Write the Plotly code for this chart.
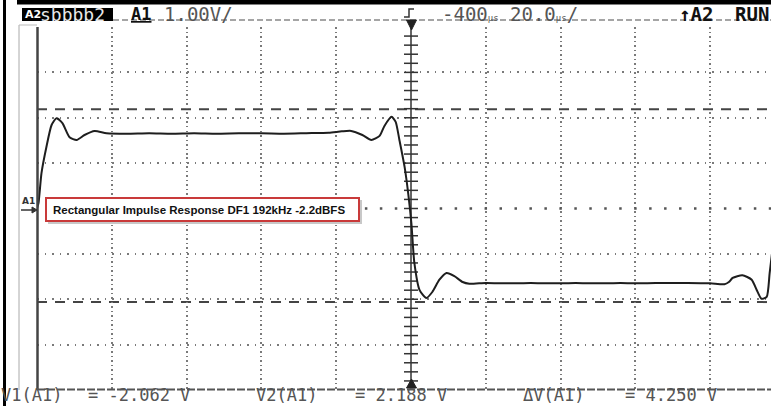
import plotly.graph_objects as go

time_us = [-100.0, -99.6, -98.8, -97.5, -96.1, -94.8, -93.2, -91.3, -89.4, -87.3,
           -84.6, -81.4, -76.0, -70.0, -64.0, -58.0, -52.0, -46.0, -40.0, -34.0,
           -28.0, -22.0, -18.5, -16.0, -13.0, -10.6, -8.4, -7.1, -5.2, -4.1,
           -3.1, -1.7, -0.7, 0.1, 0.9, 2.3, 4.1, 5.7, 7.6, 9.5,
           11.6, 13.8, 15.6, 20.0, 26.0, 32.0, 38.0, 44.0, 50.0, 56.0,
           62.0, 68.0, 74.0, 80.0, 83.8, 85.0, 86.0, 88.6, 91.1, 92.4,
           93.7, 95.1, 95.9, 96.8]
volts = [0.00, 0.12, 0.78, 1.35, 1.84, 1.99, 1.88, 1.57, 1.51, 1.62,
         1.71, 1.66, 1.65, 1.66, 1.65, 1.66, 1.65, 1.66, 1.66, 1.65,
         1.66, 1.67, 1.70, 1.71, 1.62, 1.51, 1.60, 1.82, 2.02, 1.91,
         1.51, 0.91, 0.30, -0.32, -1.20, -1.80, -1.97, -1.84, -1.57, -1.42,
         -1.49, -1.62, -1.66, -1.64, -1.65, -1.64, -1.65, -1.64, -1.65, -1.64,
         -1.65, -1.64, -1.64, -1.65, -1.67, -1.62, -1.53, -1.47, -1.57, -1.79,
         -1.99, -1.95, -1.42, -0.80]
cursor_v1 = -2.062
cursor_v2 = 2.188
delta_v = 4.250
volts_per_div = 1.00
time_per_div_us = 20.0
delay_us = -400
label_text = "Rectangular Impulse Response DF1 192kHz -2.2dBFS"

# ---------------- geometry ----------------
W, H = 771, 406
ML, MR, MT, MB = 37, 0, 27, 16
PW, PH = W - ML - MR, H - MT - MB
X_MIN = -5 * time_per_div_us
X_MAX = X_MIN + PW * time_per_div_us / 74.8


def px(x):
    return (x - ML) / PW


def py(y):
    return 1 - (y - MT) / PH


MONO = "DejaVu Sans Mono"
GRID = "#7a7a7a"
INK = "#333333"

fig = go.Figure()

# center axis ticks (graticule decoration)
vt = [i * 0.2 for i in range(-19, 20)]
fig.add_trace(go.Scatter(x=[0] * len(vt), y=vt, mode="markers", hoverinfo="skip",
                         marker=dict(symbol="line-ew", size=10,
                                     line=dict(color=INK, width=1.5)),
                         showlegend=False))
ht = [i * time_per_div_us / 5 for i in range(-24, 25) if i != 0]
fig.add_trace(go.Scatter(x=ht, y=[0] * len(ht), mode="markers", hoverinfo="skip",
                         marker=dict(symbol="square", size=2.5, color="#555555"),
                         showlegend=False))

# waveform
fig.add_trace(go.Scatter(x=time_us, y=volts, mode="lines",
                         line=dict(color="#1e1e1e", width=2, shape="spline",
                                   smoothing=0.6),
                         showlegend=False, hoverinfo="skip"))

shapes = []
# center vertical solid line
shapes.append(dict(type="line", xref="x", yref="paper", x0=0, x1=0, y0=0, y1=1,
                   line=dict(color=INK, width=1.5), layer="below"))
# cursor lines
for v in (cursor_v1, cursor_v2):
    shapes.append(dict(type="line", xref="paper", yref="y", x0=0, x1=1, y0=v, y1=v,
                       line=dict(color="#444444", width=2, dash="10px,8px"),
                       layer="below"))
# borders
shapes.append(dict(type="line", xref="paper", yref="paper", x0=px(37.5), x1=px(37.5),
                   y0=py(27), y1=py(390), line=dict(color="#444444", width=2.5)))
shapes.append(dict(type="line", xref="paper", yref="paper", x0=px(37), x1=1,
                   y0=py(389.5), y1=py(389.5),
                   line=dict(color="#555555", width=2, dash="8px,2px")))
shapes.append(dict(type="line", xref="paper", yref="paper", x0=px(19), x1=px(19),
                   y0=py(25), y1=py(390), line=dict(color="#aaaaaa", width=1)))
shapes.append(dict(type="line", xref="paper", yref="paper", x0=px(19), x1=px(37),
                   y0=py(25), y1=py(25), line=dict(color="#bbbbbb", width=1)))
# outer black frame pieces
shapes.append(dict(type="rect", xref="paper", yref="paper", x0=px(3), x1=px(6),
                   y0=py(406), y1=py(0), fillcolor="black", line=dict(width=0)))
shapes.append(dict(type="rect", xref="paper", yref="paper", x0=px(17), x1=1,
                   y0=py(4.5), y1=py(0), fillcolor="black", line=dict(width=0)))
# header
shapes.append(dict(type="rect", xref="paper", yref="paper", x0=px(22), x1=px(113),
                   y0=py(21), y1=py(8), fillcolor="black", line=dict(width=0)))
shapes.append(dict(type="line", xref="paper", yref="paper", x0=px(113), x1=1,
                   y0=py(20), y1=py(20),
                   line=dict(color="#888888", width=1.5, dash="6px,3px")))
# trigger level marker and trigger position arrows
cx = 411.5
shapes.append(dict(type="path", xref="paper", yref="paper",
                   path=f"M {px(cx-5)},{py(20)} L {px(cx+5)},{py(20)} L {px(cx)},{py(30)} Z",
                   fillcolor="#222222", line=dict(color="#222222", width=1)))
shapes.append(dict(type="path", xref="paper", yref="paper",
                   path=f"M {px(cx-5)},{py(388)} L {px(cx+5)},{py(388)} L {px(cx)},{py(379)} Z",
                   fillcolor="#222222", line=dict(color="#222222", width=1)))
shapes.append(dict(type="path", xref="paper", yref="paper",
                   path=f"M {px(404)},{py(17)} L {px(409)},{py(17)} L {px(409)},{py(9)} L {px(414)},{py(9)}",
                   line=dict(color="#333333", width=1.5)))
# A1 ground marker arrow
shapes.append(dict(type="line", xref="paper", yref="paper", x0=px(21), x1=px(33),
                   y0=py(210), y1=py(210), line=dict(color="#333333", width=1.5)))
shapes.append(dict(type="path", xref="paper", yref="paper",
                   path=f"M {px(32)},{py(207)} L {px(37)},{py(210)} L {px(32)},{py(213)} Z",
                   fillcolor="#333333", line=dict(color="#333333", width=1)))
# label box with shadow
shapes.append(dict(type="rect", xref="paper", yref="paper", x0=px(48), x1=px(362),
                   y0=py(224), y1=py(200), fillcolor="#c8c8c8", line=dict(width=0),
                   layer="above"))
shapes.append(dict(type="rect", xref="paper", yref="paper", x0=px(46), x1=px(359),
                   y0=py(221), y1=py(198), fillcolor="white",
                   line=dict(color="#c93a3a", width=2), layer="above"))

ann = []


def txt(x, y, s, size, color="#555555", family=MONO, xanchor="left",
        yanchor="middle", pad=1):
    ann.append(dict(x=px(x), y=py(y), xref="paper", yref="paper", text=s,
                    showarrow=False, xanchor=xanchor, yanchor=yanchor, borderpad=pad,
                    font=dict(family=family, size=size, color=color)))


txt(23, 14.5, "<b>A2</b>", 11, "white", "DejaVu Sans")
txt(38, 14.5, "sbbbb2", 18, "#e8e8e8")
txt(129, 14.5, "<b><u>A1</u></b>", 17, "#111111")
txt(162, 14.5, f"{volts_per_div:.2f}V/", 19)
txt(440, 14.5, f"{delay_us}<span style='font-size:9px'>µs</span> "
    f"{time_per_div_us:.1f}<span style='font-size:9px'>µs</span>/", 19)
txt(677, 14.5, "<b>↑A2</b>", 19, "#111111")
txt(771, 14.5, "<b>RUN</b>", 19, "#111111", xanchor="right")
txt(20, 201, "<b>A1</b>", 9, "#333333", "DejaVu Sans")
txt(51, 209.5, f"<b>{label_text}</b>", 11.5, "#111111", "Liberation Sans")

BY = 406
BS = 17
txt(0, BY, "V1(A1)", BS, yanchor="bottom", pad=0)
txt(87, BY, f"= {cursor_v1:.3f} V", BS, yanchor="bottom", pad=0)
txt(255, BY, "V2(A1)", BS, yanchor="bottom", pad=0)
txt(354, BY, f"= {cursor_v2:.3f} V", BS, yanchor="bottom", pad=0)
txt(522, BY, "ΔV(A1)", BS, yanchor="bottom", pad=0)
txt(624, BY, f"= {delta_v:.3f} V", BS, yanchor="bottom", pad=0)

fig.update_layout(
    width=W, height=H,
    margin=dict(l=ML, r=MR, t=MT, b=MB, pad=0),
    paper_bgcolor="white", plot_bgcolor="white",
    shapes=shapes, annotations=ann,
    xaxis=dict(range=[X_MIN, X_MAX], tickvals=[-80, -60, -40, -20, 20, 40, 60, 80],
               showticklabels=False, ticks="", showgrid=True, gridcolor=GRID,
               gridwidth=1.5, griddash="1.5px,3px", zeroline=False, showline=False,
               fixedrange=True),
    yaxis=dict(range=[-4, 4], tickvals=[-3, -2, -1, 1, 2, 3],
               showticklabels=False, ticks="", showgrid=True, gridcolor=GRID,
               gridwidth=1.5, griddash="1.5px,6px", zeroline=False, showline=False,
               fixedrange=True),
)

fig.write_html("out.html", config={"displayModeBar": False},
               post_script="document.body.style.margin='0';"
                           "document.body.style.overflow='hidden';")
